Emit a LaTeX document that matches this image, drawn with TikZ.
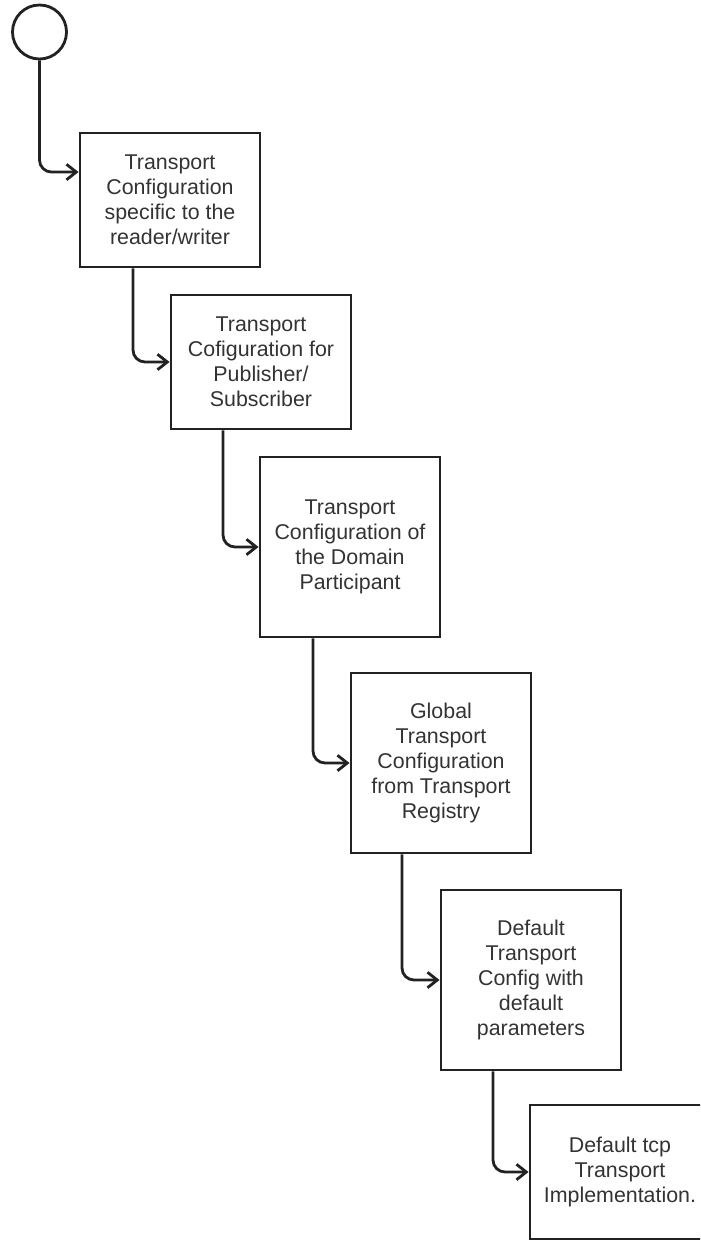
\documentclass[tikz,border=0pt]{standalone}
\usepackage{fontspec}
\setmainfont{Liberation Sans}
\usetikzlibrary{arrows.meta}
\definecolor{linegray}{HTML}{222222}
\definecolor{textgray}{HTML}{333333}
\tikzset{
  stage/.style={draw=linegray, line width=2pt, fill=white, align=center, text=textgray,
    minimum width=4.5cm, font=\fontsize{15.2}{17.8}\selectfont},
  short/.style={stage, minimum height=3.35cm},
  tall/.style={stage, minimum height=4.5cm},
  conn/.style={-{Straight Barb[length=7pt,width=11pt]}, draw=linegray, line width=2pt, rounded corners=0.3cm}
}
\begin{document}
\begin{tikzpicture}[x=0.025cm,y=-0.025cm]
  \useasboundingbox (0,0) rectangle (700,1241);
  \clip (0,0) rectangle (700,1241);
  \node[circle, draw=linegray, line width=2pt, minimum size=1.35cm] (start) at (39.5,32) {};
  \node[short] (b1) at (170,200) {Transport\\Configuration\\specific to the\\reader/writer};
  \node[short] (b2) at (261,362) {Transport\\Cofiguration for\\Publisher/\\Subscriber};
  \node[tall] (b3) at (350,547) {Transport\\Configuration of\\the Domain\\Participant};
  \node[tall] (b4) at (441,763) {Global\\Transport\\Configuration\\from Transport\\Registry};
  \node[tall] (b5) at (531,980) {Default\\Transport\\Config with\\default\\parameters};
  \node[short] (b6) at (620,1172) {Default tcp\\Transport\\Implementation.};
  \draw[conn] (start.south) |- (b1.163);
  \draw[conn] ([xshift=-0.925cm]b1.south) |- (b2.west);
  \draw[conn] ([xshift=-0.95cm]b2.south) |- (b3.west);
  \draw[conn] ([xshift=-0.925cm]b3.south) |- (b4.west);
  \draw[conn] ([xshift=-0.975cm]b4.south) |- (b5.west);
  \draw[conn] ([xshift=-0.95cm]b5.south) |- (b6.west);
\end{tikzpicture}
\end{document}
